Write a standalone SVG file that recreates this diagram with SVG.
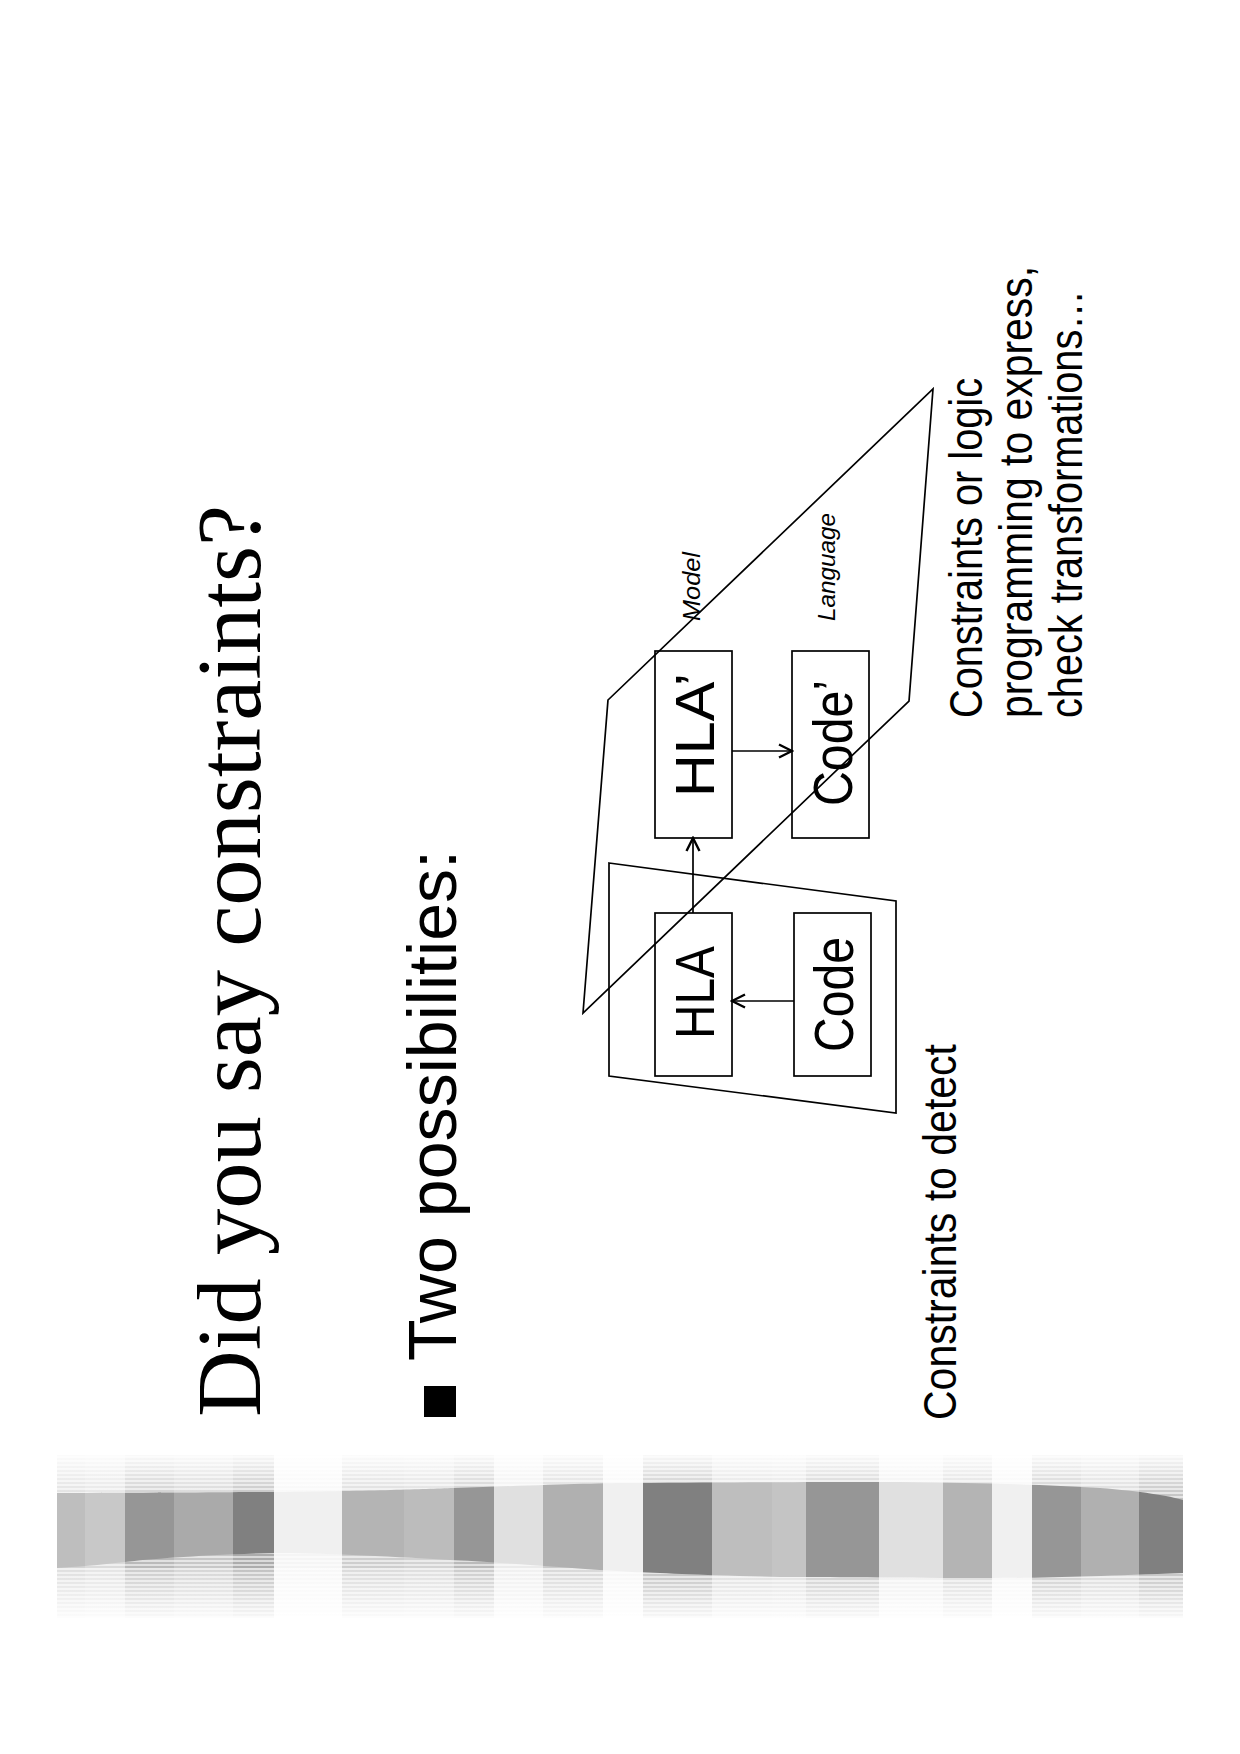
<svg xmlns="http://www.w3.org/2000/svg" width="1240" height="1754" viewBox="0 0 1240 1754">
<defs>
<style>
.ln{fill:none;stroke:#000;stroke-width:1.7}
.box{fill:none;stroke:#000;stroke-width:1.7}
.sans{font-family:"Liberation Sans",Arial,sans-serif;fill:#000}
.serif{font-family:"Liberation Serif","Times New Roman",serif;fill:#000}
.lbl{font-size:56px}
.it{font-size:24px;font-style:italic}
.note{font-size:46px}
</style>
<marker id="arr" viewBox="-15 -9 17 18" markerWidth="17" markerHeight="18" refX="0" refY="0" orient="auto" markerUnits="userSpaceOnUse">
<path d="M-13,-6.5 L0,0 L-13,6.5" fill="none" stroke="#000" stroke-width="2.4"/>
</marker>
<pattern id="hatch" patternUnits="userSpaceOnUse" width="8" height="4">
<rect x="0" y="0" width="8" height="2" fill="#ffffff" fill-opacity="0.55"/>
</pattern>
<linearGradient id="fadeTop" x1="0" y1="0" x2="0" y2="1">
<stop offset="0" stop-color="#fff" stop-opacity="0.92"/>
<stop offset="1" stop-color="#fff" stop-opacity="0.25"/>
</linearGradient>
<linearGradient id="fadeBot" x1="0" y1="1" x2="0" y2="0">
<stop offset="0" stop-color="#fff" stop-opacity="0.92"/>
<stop offset="1" stop-color="#fff" stop-opacity="0.25"/>
</linearGradient>
<clipPath id="wave">
<path d="M57,1493 C150,1493 250,1492 274,1492 C380,1491 420,1489 454,1488 C540,1485 600,1483 632,1483 C760,1482 850,1482 900,1482 C990,1483 1050,1485 1100,1488 C1140,1491 1170,1496 1183,1500 L1183,1573 C1100,1576 1050,1578 992,1578 C900,1578 820,1577 780,1577 C700,1575 660,1573 632,1572 C540,1566 480,1561 450,1560 C380,1556 320,1553 274,1553 C200,1555 150,1559 125,1562 C100,1565 75,1567 57,1568 Z"/>
</clipPath>
</defs>
<rect x="0" y="0" width="1240" height="1754" fill="#fff"/>

<g id="band">
<g id="band-cols">
<rect x="57" y="1455" width="28" height="163" fill="#bebebe"/>
<rect x="85" y="1455" width="40" height="163" fill="#c8c8c8"/>
<rect x="125" y="1455" width="49" height="163" fill="#969696"/>
<rect x="174" y="1455" width="59" height="163" fill="#aaaaaa"/>
<rect x="233" y="1455" width="41" height="163" fill="#808080"/>
<rect x="274" y="1455" width="68" height="163" fill="#f0f0f0"/>
<rect x="342" y="1455" width="62" height="163" fill="#b4b4b4"/>
<rect x="404" y="1455" width="50" height="163" fill="#bcbcbc"/>
<rect x="454" y="1455" width="40" height="163" fill="#969696"/>
<rect x="494" y="1455" width="49" height="163" fill="#e0e0e0"/>
<rect x="543" y="1455" width="60" height="163" fill="#b0b0b0"/>
<rect x="603" y="1455" width="40" height="163" fill="#f0f0f0"/>
<rect x="643" y="1455" width="69" height="163" fill="#808080"/>
<rect x="712" y="1455" width="60" height="163" fill="#bebebe"/>
<rect x="772" y="1455" width="34" height="163" fill="#c4c4c4"/>
<rect x="806" y="1455" width="73" height="163" fill="#969696"/>
<rect x="879" y="1455" width="64" height="163" fill="#e0e0e0"/>
<rect x="943" y="1455" width="49" height="163" fill="#b4b4b4"/>
<rect x="992" y="1455" width="40" height="163" fill="#f0f0f0"/>
<rect x="1032" y="1455" width="49" height="163" fill="#969696"/>
<rect x="1081" y="1455" width="58" height="163" fill="#b0b0b0"/>
<rect x="1139" y="1455" width="44" height="163" fill="#808080"/>
</g>
<rect x="57" y="1455" width="1126" height="163" fill="#fff" fill-opacity="0.35"/>
<rect x="57" y="1455" width="1126" height="45" fill="url(#fadeTop)"/>
<rect x="57" y="1568" width="1126" height="50" fill="url(#fadeBot)"/>
<rect x="57" y="1455" width="1126" height="163" fill="url(#hatch)"/>
<g id="band-blocks" clip-path="url(#wave)">
<rect x="57" y="1470" width="28" height="120" fill="#bebebe"/>
<rect x="85" y="1470" width="40" height="120" fill="#c8c8c8"/>
<rect x="125" y="1470" width="49" height="120" fill="#969696"/>
<rect x="174" y="1470" width="59" height="120" fill="#aaaaaa"/>
<rect x="233" y="1470" width="41" height="120" fill="#808080"/>
<rect x="274" y="1470" width="68" height="120" fill="#f0f0f0"/>
<rect x="342" y="1470" width="62" height="120" fill="#b4b4b4"/>
<rect x="404" y="1470" width="50" height="120" fill="#bcbcbc"/>
<rect x="454" y="1470" width="40" height="120" fill="#969696"/>
<rect x="494" y="1470" width="49" height="120" fill="#e0e0e0"/>
<rect x="543" y="1470" width="60" height="120" fill="#b0b0b0"/>
<rect x="603" y="1470" width="40" height="120" fill="#f0f0f0"/>
<rect x="643" y="1470" width="69" height="120" fill="#808080"/>
<rect x="712" y="1470" width="60" height="120" fill="#bebebe"/>
<rect x="772" y="1470" width="34" height="120" fill="#c4c4c4"/>
<rect x="806" y="1470" width="73" height="120" fill="#969696"/>
<rect x="879" y="1470" width="64" height="120" fill="#e0e0e0"/>
<rect x="943" y="1470" width="49" height="120" fill="#b4b4b4"/>
<rect x="992" y="1470" width="40" height="120" fill="#f0f0f0"/>
<rect x="1032" y="1470" width="49" height="120" fill="#969696"/>
<rect x="1081" y="1470" width="58" height="120" fill="#b0b0b0"/>
<rect x="1139" y="1470" width="44" height="120" fill="#808080"/>
</g>
</g>

<g id="title">
<text class="serif" font-size="90" transform="translate(260,1417) rotate(-90)" textLength="912" lengthAdjust="spacingAndGlyphs">Did you say constraints?</text>
</g>

<g id="bullet">
<rect x="424" y="1386" width="32" height="31" fill="#000"/>
<text class="sans" font-size="68" transform="translate(456,1361) rotate(-90)" textLength="511" lengthAdjust="spacingAndGlyphs">Two possibilities:</text>
</g>

<g id="regions">
<polygon id="model-region" class="ln" points="608,700 933,389 909,701 583,1013"/>
<polygon id="detect-region" class="ln" points="609,863 896,901 896,1113 609,1076"/>
</g>

<g id="node-hla2">
<rect class="box" x="655" y="651" width="77" height="187"/>
<text class="sans lbl" transform="translate(714,797) rotate(-90)" textLength="124" lengthAdjust="spacingAndGlyphs">HLA’</text>
</g>
<g id="node-code2">
<rect class="box" x="792" y="651" width="77" height="187"/>
<text class="sans lbl" transform="translate(852,806) rotate(-90)" textLength="126" lengthAdjust="spacingAndGlyphs">Code’</text>
</g>
<g id="node-hla">
<rect class="box" x="655" y="913" width="77" height="163"/>
<text class="sans lbl" transform="translate(714,1039) rotate(-90)" textLength="93" lengthAdjust="spacingAndGlyphs">HLA</text>
</g>
<g id="node-code">
<rect class="box" x="794" y="913" width="77" height="163"/>
<text class="sans lbl" transform="translate(853,1052) rotate(-90)" textLength="115" lengthAdjust="spacingAndGlyphs">Code</text>
</g>

<g id="connectors">
<line class="ln" x1="732" y1="751" x2="792" y2="751" marker-end="url(#arr)"/>
<line class="ln" x1="693" y1="913" x2="693" y2="838" marker-end="url(#arr)"/>
<line class="ln" x1="794" y1="1001" x2="732" y2="1001" marker-end="url(#arr)"/>
</g>

<g id="labels">
<text class="sans it" transform="translate(700,621) rotate(-90)" textLength="69" lengthAdjust="spacingAndGlyphs">Model</text>
<text class="sans it" transform="translate(835,621) rotate(-90)" textLength="108" lengthAdjust="spacingAndGlyphs">Language</text>
</g>

<g id="notes">
<text class="sans note" transform="translate(956,1420) rotate(-90)" textLength="376" lengthAdjust="spacingAndGlyphs">Constraints to detect</text>
<text class="sans note" transform="translate(982,718) rotate(-90)" textLength="340" lengthAdjust="spacingAndGlyphs">Constraints or logic</text>
<text class="sans note" transform="translate(1032,718) rotate(-90)" textLength="452" lengthAdjust="spacingAndGlyphs">programming to express,</text>
<text class="sans note" transform="translate(1082,718) rotate(-90)" textLength="428" lengthAdjust="spacingAndGlyphs">check transformations…</text>
</g>
</svg>
